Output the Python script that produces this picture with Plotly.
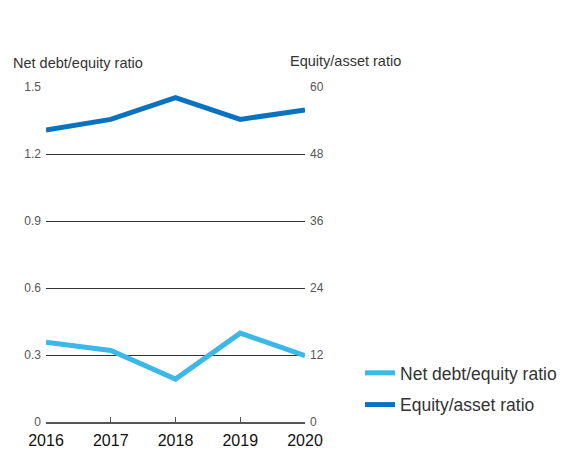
import plotly.graph_objects as go

years = [2016, 2017, 2018, 2019, 2020]
net_debt_equity = [0.357, 0.32, 0.192, 0.398, 0.297]
equity_asset = [52.3, 54.2, 58.1, 54.2, 55.9]
left_ticks = [0, 0.3, 0.6, 0.9, 1.2, 1.5]
left_labels = ["0", "0.3", "0.6", "0.9", "1.2", "1.5"]
right_ticks = [0, 12, 24, 36, 48, 60]
right_labels = ["0", "12", "24", "36", "48", "60"]

FONT = "Liberation Sans"

fig = go.Figure()
fig.add_trace(go.Scatter(x=years, y=net_debt_equity, mode="lines", name="Net debt/equity ratio",
                         legendgroup="a",
                         line=dict(color="#3bb8e8", width=5), yaxis="y"))
fig.add_trace(go.Scatter(x=years, y=equity_asset, mode="lines", name="Equity/asset ratio",
                         legendgroup="b",
                         line=dict(color="#0a72be", width=5), yaxis="y2"))

fig.update_layout(
    width=557, height=450,
    margin=dict(l=38, r=260, t=79, b=36, autoexpand=False),
    paper_bgcolor="white", plot_bgcolor="white",
    font=dict(family=FONT, color="#444"),
    showlegend=True,
    legend=dict(xref="container", yref="container", x=0.632, y=0.229, xanchor="left", yanchor="top",
                font=dict(size=17.5, color="#333"), tracegroupgap=6, itemwidth=30,
                bgcolor="rgba(0,0,0,0)"),
    xaxis=dict(range=[2016, 2020], tickvals=years, ticktext=[str(y) for y in years],
               showgrid=False, zeroline=False, showline=True, linecolor="#555", linewidth=2,
               ticks="inside", ticklen=5, tickcolor="#555", tickwidth=1, automargin=False,
               tickfont=dict(size=16, color="#111"), ticklabelstandoff=3),
    yaxis=dict(range=[0, 1.5], tickvals=left_ticks, ticktext=left_labels,
               showgrid=True, gridcolor="#333", gridwidth=1, zeroline=False, automargin=False,
               tickfont=dict(size=12, color="#555"), ticklabelstandoff=4),
    yaxis2=dict(range=[0, 60], tickvals=right_ticks, ticktext=right_labels, overlaying="y", side="right",
                showgrid=False, zeroline=False, automargin=False,
                tickfont=dict(size=12, color="#555"), ticklabelstandoff=4),
    annotations=[
        dict(text="Net debt/equity ratio", xref="paper", yref="paper", x=-0.137, y=1.073,
             xanchor="left", yanchor="middle", showarrow=False, font=dict(size=14.5, color="#333")),
        dict(text="Equity/asset ratio", xref="paper", yref="paper", x=0.936, y=1.077,
             xanchor="left", yanchor="middle", showarrow=False, font=dict(size=14.5, color="#333")),
    ],
)

fig.write_html("out.html")
